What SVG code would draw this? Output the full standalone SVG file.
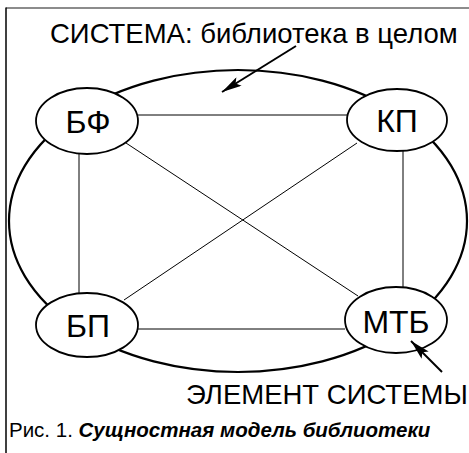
<svg xmlns="http://www.w3.org/2000/svg" width="469" height="453" viewBox="0 0 469 453">
  <style>
    .outline { fill: none; stroke: #000; stroke-width: 2.2; }
    .node { fill: #fff; stroke: #000; stroke-width: 1.8; }
    .link { fill: none; stroke: #000; stroke-width: 1; }
    .pointer { fill: none; stroke: #000; stroke-width: 2; }
    .lbl { font-family: "Liberation Sans", Arial, sans-serif; fill: #000; }
    .nodetext { font-size: 32px; text-anchor: middle; }
  </style>
  <defs>
    <marker id="arrowhead" viewBox="0 0 20 10" refX="20" refY="5" markerWidth="20" markerHeight="10" markerUnits="userSpaceOnUse" orient="auto">
      <path d="M0,0 L20,5 L0,10 L4,5 Z" fill="#000"/>
    </marker>
  </defs>

  <!-- page frame: top rule and left rule -->
  <line x1="6" y1="8" x2="469" y2="8" stroke="#666" stroke-width="1.5"/>
  <line x1="6" y1="7.5" x2="6" y2="453" stroke="#000" stroke-width="1.5"/>

  <!-- the system as a whole -->
  <g id="system">
    <ellipse class="outline" cx="238" cy="221" rx="229" ry="151"/>
  </g>

  <!-- links between elements -->
  <g id="connectors">
    <line class="link" x1="138" y1="115" x2="347" y2="115"/>
    <line class="link" x1="137" y1="329" x2="345" y2="329"/>
    <line class="link" x1="79" y1="154" x2="79" y2="293"/>
    <line class="link" x1="403" y1="150" x2="403" y2="288"/>
    <line class="link" x1="126" y1="143" x2="358" y2="296"/>
    <line class="link" x1="357" y1="143" x2="124" y2="300"/>
  </g>

  <g id="node-bf">
    <ellipse class="node" cx="87" cy="121" rx="51" ry="33"/>
    <text class="lbl nodetext" x="88" y="133">БФ</text>
  </g>
  <g id="node-kp">
    <ellipse class="node" cx="397" cy="120" rx="50" ry="31"/>
    <text class="lbl nodetext" x="397" y="132">КП</text>
  </g>
  <g id="node-bp">
    <ellipse class="node" cx="87" cy="325" rx="51" ry="32"/>
    <text class="lbl nodetext" x="88" y="337">БП</text>
  </g>
  <g id="node-mtb">
    <ellipse class="node" cx="396" cy="320" rx="51" ry="33"/>
    <text class="lbl nodetext" x="396" y="333">МТБ</text>
  </g>

  <!-- annotations -->
  <g id="annotations">
    <text class="lbl" x="50" y="43" font-size="27.5">СИСТЕМА: библиотека в целом</text>
    <line class="pointer" x1="296" y1="46" x2="222" y2="92" marker-end="url(#arrowhead)"/>
    <text class="lbl" x="186" y="404" font-size="27.5">ЭЛЕМЕНТ СИСТЕМЫ</text>
    <line class="pointer" x1="442" y1="372" x2="411" y2="341" marker-end="url(#arrowhead)"/>
  </g>

  <!-- caption -->
  <text class="lbl" x="9" y="437" font-size="20.5">Рис. 1. <tspan font-weight="bold" font-style="italic">Сущностная модель библиотеки</tspan></text>
</svg>
